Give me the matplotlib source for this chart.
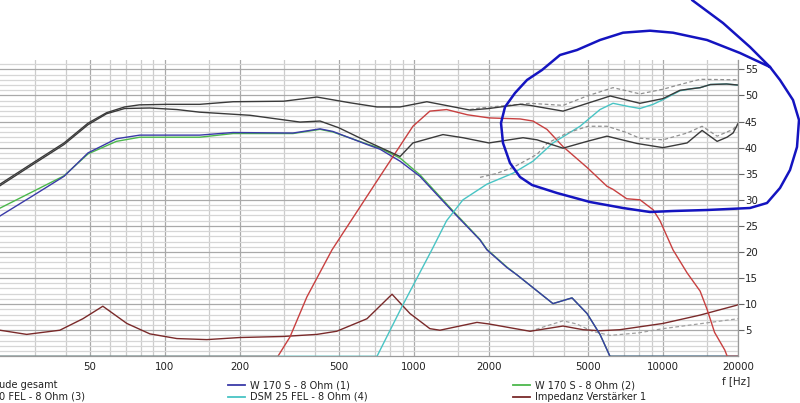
import numpy as np
import matplotlib
matplotlib.use("Agg")
import matplotlib.pyplot as plt

# frequency response data (f in Hz, level in dB)
sum1_f = [21.8, 29.6, 39.4, 49.2, 58.4, 69, 79, 102, 138, 188, 300, 408, 554, 711, 880, 1127, 1680, 2000, 2670, 2924, 3970, 6140, 8080, 10000, 11700, 14100, 15500, 18000, 20000]
sum1_db = [33.0, 37.1, 40.9, 44.7, 46.7, 47.8, 48.2, 48.3, 48.3, 48.8, 48.9, 49.7, 48.6, 47.8, 47.8, 48.8, 47.2, 47.5, 48.3, 48.1, 47.0, 49.9, 48.5, 49.4, 51.0, 51.5, 52.1, 52.2, 52.0]

sum2_f = [21.8, 29.6, 39.4, 49.2, 58.4, 69, 87, 112, 138, 220, 349, 420, 500, 648, 880, 991, 1308, 1574, 2000, 2742, 3119, 3968, 4955, 5957, 7860, 10000, 12490, 14350, 16490, 18070, 19110, 20000]
sum2_db = [32.7, 36.8, 40.6, 44.4, 46.5, 47.5, 47.6, 47.3, 46.8, 46.2, 44.9, 45.1, 43.8, 41.2, 38.3, 40.9, 42.5, 41.9, 40.9, 41.9, 41.5, 39.9, 41.2, 42.2, 40.8, 40.0, 40.9, 43.3, 41.2, 42.0, 42.8, 44.6]

sum1_dash_f = [1680, 1842, 2924, 3970, 4955, 6300, 8080, 10000, 11700, 14100, 19800, 20000]
sum1_dash_db = [47.3, 47.6, 48.5, 48.1, 49.9, 51.5, 50.3, 51.2, 52.1, 53.1, 53.0, 52.9]

sum2_dash_f = [1842, 2130, 2500, 3119, 3421, 4118, 5000, 5957, 7032, 8083, 10000, 12490, 14350, 16490, 19110, 20000]
sum2_dash_db = [34.3, 35.0, 36.2, 38.7, 40.8, 42.8, 44.1, 44.1, 43.0, 41.8, 41.5, 42.8, 44.1, 42.2, 43.5, 44.6]

w1_f = [21.8, 29.6, 39.4, 49.2, 63.9, 79.4, 138, 188, 327, 420, 473, 648, 731, 880, 1057, 1434, 1842, 1964, 2364, 2594, 3616, 4313, 4955, 5585, 6125, 20000]
w1_db = [26.9, 30.8, 34.5, 39.0, 41.7, 42.4, 42.4, 42.9, 42.8, 43.6, 43.1, 40.6, 39.7, 37.4, 34.5, 27.7, 22.3, 20.4, 17.0, 15.6, 10.1, 11.2, 8.2, 4.2, 0.0, 0.0]

w2_f = [21.8, 29.6, 39.4, 49.2, 63.9, 79.4, 138, 188, 327, 420, 473, 648, 731, 880, 1057, 1434, 1842, 1964, 2364, 2594, 3616, 4313, 4955, 5585, 6125, 20000]
w2_db = [28.4, 31.6, 34.6, 38.8, 41.2, 42.0, 42.0, 42.7, 42.7, 43.5, 43.0, 40.7, 39.9, 38.0, 34.8, 27.9, 22.4, 20.5, 17.1, 15.6, 10.1, 11.2, 8.2, 4.2, 0.0, 0.0]

mid_f = [21.8, 284.5, 318, 372, 469, 731, 991, 1159, 1353, 1640, 2000, 2667, 3006, 3421, 3968, 4955, 5957, 6300, 7150, 8083, 9123, 9723, 10970, 12490, 14090, 15030, 16100, 17700, 18100, 20000]
mid_db = [0.0, 0.0, 3.7, 11.4, 20.4, 34.5, 44.1, 47.0, 47.3, 46.3, 45.7, 45.5, 45.1, 43.5, 40.2, 36.2, 32.6, 32.0, 30.2, 30.0, 28.1, 26.0, 20.4, 16.0, 12.5, 9.0, 4.6, 1.2, 0.0, 0.0]

tw_f = [21.8, 711, 895, 1180, 1353, 1574, 1964, 2500, 3006, 3616, 4645, 5585, 6300, 7250, 8083, 9123, 10000, 11700, 13000, 14100, 15500, 18000, 20000]
tw_db = [0.0, 0.0, 9.5, 20.4, 26.0, 30.0, 33.0, 35.1, 37.4, 40.9, 44.1, 47.3, 48.5, 47.9, 47.5, 48.3, 49.2, 50.9, 51.3, 51.5, 52.1, 52.2, 52.0]

imp_f = [21.8, 27.9, 37.9, 46.9, 56.4, 70.4, 87.1, 111.8, 147.5, 200, 298, 408, 490, 648, 817, 964, 1159, 1272, 1791, 2000, 2924, 3968, 4775, 5585, 6712, 10000, 14090, 19800, 20000]
imp_db = [5.0, 4.2, 5.0, 7.2, 9.6, 6.3, 4.3, 3.4, 3.2, 3.6, 3.8, 4.2, 4.8, 7.2, 11.9, 8.2, 5.3, 5.0, 6.5, 6.2, 4.8, 5.8, 5.1, 4.9, 5.1, 6.3, 7.9, 9.8, 9.9]

imp_dash_f = [2924, 3400, 3968, 4500, 5200, 6125, 8000, 10000, 20000]
imp_dash_db = [4.8, 5.8, 6.8, 6.2, 4.8, 4.0, 4.5, 5.3, 7.2]

x_ticks = [50, 100, 200, 500, 1000, 2000, 5000, 10000, 20000]
x_minor = [30, 40, 60, 70, 80, 90, 150, 300, 400, 600, 700, 800, 900, 1500,
           3000, 4000, 6000, 7000, 8000, 9000, 15000]
y_ticks = [5, 10, 15, 20, 25, 30, 35, 40, 45, 50, 55]

# hand drawn marker loop on the screenshot (figure pixels, y from top)
loop_x = [692, 723, 750, 770, 780, 793, 799, 797, 790, 780, 767, 750, 707, 673, 650, 623, 590, 557, 532, 520, 510, 503, 501, 505, 515, 527, 542, 560, 577, 600, 623, 650, 673, 707, 740, 770]
loop_y = [0, 23, 47, 67, 80, 100, 120, 147, 170, 188, 203, 208, 210, 211, 212, 208, 202, 193, 185, 177, 163, 143, 123, 107, 93, 80, 70, 55, 50, 40, 32.7, 30.7, 32.7, 40, 53, 67]

W, H = 800, 403
fig = plt.figure(figsize=(W / 100, H / 100), dpi=100)
fig.patch.set_facecolor("white")

ax = fig.add_axes([0, (H - 356.3) / H, 738 / W, (356.3 - 60) / H])
ax.set_xscale("log")
ax.set_xlim(21.8, 20000)
ax.set_ylim(0, 56.8)

ax.set_xticks(x_ticks)
ax.set_xticklabels([str(t) for t in x_ticks])
ax.set_xticks(x_minor, minor=True)
ax.xaxis.set_minor_formatter(matplotlib.ticker.NullFormatter())
ax.set_yticks(y_ticks)
ax.set_yticks(np.arange(1, 57), minor=True)
ax.yaxis.tick_right()
ax.yaxis.set_minor_formatter(matplotlib.ticker.NullFormatter())

ax.grid(True, which="major", axis="both", color="#a9a9a9", lw=0.9)
ax.grid(True, which="minor", axis="y", color="#d6d6d6", lw=0.9)
ax.grid(True, which="minor", axis="x", color="#cccccc", lw=0.9)
ax.set_axisbelow(True)

for s in ["top", "left"]:
    ax.spines[s].set_visible(False)
for s in ["right", "bottom"]:
    ax.spines[s].set_color("#9a9a9a")
    ax.spines[s].set_linewidth(0.9)

tick_fs = 7.4
ax.tick_params(axis="x", which="both", length=0, pad=4, labelsize=tick_fs, labelcolor="#222222")
ax.tick_params(axis="y", which="major", length=4, width=0.8, color="#666666", pad=1,
               labelsize=tick_fs, labelcolor="#222222", right=True, left=False)
ax.tick_params(axis="y", which="minor", length=0)

lw = 1.0
ax.plot(imp_dash_f, imp_dash_db, color="#a0a0a0", lw=0.9, ls=(0, (3, 2)))
ax.plot(imp_f, imp_db, color="#7a2a2a", lw=lw)
ax.plot(w2_f, w2_db, color="#4cb84c", lw=lw)
ax.plot(w1_f, w1_db, color="#3a3aa8", lw=lw)
ax.plot(mid_f, mid_db, color="#c84040", lw=lw)
ax.plot(tw_f, tw_db, color="#48c4c4", lw=lw)
ax.plot(sum1_dash_f, sum1_dash_db, color="#909090", lw=0.9, ls=(0, (3, 2)))
ax.plot(sum2_dash_f, sum2_dash_db, color="#909090", lw=0.9, ls=(0, (3, 2)))
ax.plot(sum2_f, sum2_db, color="#3a3a3a", lw=lw)
ax.plot(sum1_f, sum1_db, color="#3a3a3a", lw=lw)

# overlay in pixel coordinates for legend texts and the drawn loop
ov = fig.add_axes([0, 0, 1, 1])
ov.set_xlim(0, W)
ov.set_ylim(H, 0)
ov.axis("off")
ov.patch.set_alpha(0)

fs = 7.8
fam = ["DejaVu Sans"]
ov.text(736, 381, "f [Hz]", ha="center", va="center", fontsize=tick_fs, color="#222222", family=fam)

legend_items = [
    (-1, 385, None, "ude gesamt"),
    (228, 385, "#3a3aa8", "W 170 S - 8 Ohm (1)"),
    (513, 385, "#4cb84c", "W 170 S - 8 Ohm (2)"),
    (-1, 396.5, None, "0 FEL - 8 Ohm (3)"),
    (228, 396.5, "#48c4c4", "DSM 25 FEL - 8 Ohm (4)"),
    (513, 396.5, "#7a2a2a", "Impedanz Verstärker 1"),
]
for x0, y0, col, label in legend_items:
    if col is not None:
        ov.plot([x0, x0 + 17], [y0, y0], color=col, lw=1.3)
        x0 = x0 + 22
    ov.text(x0, y0, label, ha="left", va="center", fontsize=fs, color="#222222",
            family=fam, fontstretch="condensed")

ov.plot(loop_x, loop_y, color="#1414c0", lw=1.8, solid_capstyle="round", solid_joinstyle="round")

fig.savefig("out.png", dpi=100, facecolor="white")
